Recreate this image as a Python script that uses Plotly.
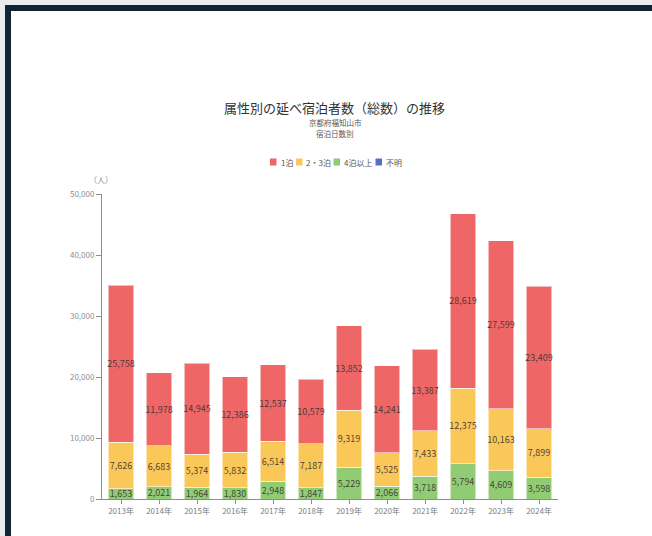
import plotly.graph_objects as go

# ---- data ----
years = ["2013年", "2014年", "2015年", "2016年", "2017年", "2018年",
         "2019年", "2020年", "2021年", "2022年", "2023年", "2024年"]
stay_4plus = [1653, 2021, 1964, 1830, 2948, 1847, 5229, 2066, 3718, 5794, 4609, 3598]
stay_2_3 = [7626, 6683, 5374, 5832, 6514, 7187, 9319, 5525, 7433, 12375, 10163, 7899]
stay_1 = [25758, 11978, 14945, 12386, 12537, 10579, 13852, 14241, 13387, 28619, 27599, 23409]
stay_unknown = [0] * 12
series_names = ["1泊", "2・3泊", "4泊以上", "不明"]
y_ticks = [0, 10000, 20000, 30000, 40000, 50000]

title_text = "属性別の延べ宿泊者数（総数）の推移"
subtitle_lines = ["京都府福知山市", "宿泊日数別"]
unit_text = "（人）"

# ---- styling ----
W, H = 652, 536
ML, MR, MT, MB = 102, 94, 194, 37
PW, PH = W - ML - MR, H - MT - MB
FONT = "Noto Sans CJK JP"
COLORS = {"1泊": "#ee6666", "2・3泊": "#fac858", "4泊以上": "#91cc75", "不明": "#5470c6"}


def px(x):
    return (x - ML) / PW


def py(y):
    return (H - MB - y) / PH


fig = go.Figure()
series_values = {"4泊以上": stay_4plus, "2・3泊": stay_2_3, "1泊": stay_1, "不明": stay_unknown}
for name in ["4泊以上", "2・3泊", "1泊", "不明"]:
    vals = series_values[name]
    is_empty = all(v == 0 for v in vals)
    fig.add_trace(go.Bar(
        x=years, y=vals, name=name,
        marker=dict(color=COLORS[name],
                    line=dict(color="rgba(255,255,255,0.55)", width=0 if is_empty else 1)),
        texttemplate="" if is_empty else "%{y:,}",
        textposition="inside", insidetextanchor="middle", textangle=0,
        constraintext="none",
        textfont=dict(family=FONT, size=9, color="rgba(60,50,50,0.9)"),
        hoverinfo="x+y+name",
    ))

fig.update_layout(
    width=W, height=H,
    margin=dict(l=ML, r=MR, t=MT, b=MB, autoexpand=False),
    barmode="stack", bargap=0.32,
    paper_bgcolor="white", plot_bgcolor="white",
    showlegend=False,
    font=dict(family=FONT, size=8, color="#6e7079"),
    xaxis=dict(type="category", showline=True, linecolor="#8a8d95", linewidth=1,
               ticks="outside", ticklen=4, tickcolor="#8a8d95",
               tickfont=dict(family=FONT, size=8, color="#7a7d85"),
               showgrid=False, zeroline=False, fixedrange=True),
    yaxis=dict(range=[0, 50000], tickvals=y_ticks, tickformat=",",
               showline=True, linecolor="#8a8d95", linewidth=1,
               ticks="outside", ticklen=5, tickcolor="#8a8d95",
               tickfont=dict(family=FONT, size=8, color="#8a8d95"),
               showgrid=False, zeroline=False, fixedrange=True),
)

annotations = [
    dict(text=title_text, x=px(334.5), y=py(108), xref="paper", yref="paper",
         showarrow=False, xanchor="center", yanchor="middle",
         font=dict(family=FONT, size=13, color="#333333")),
    dict(text=subtitle_lines[0], x=px(335), y=py(122), xref="paper", yref="paper",
         showarrow=False, xanchor="center", yanchor="middle",
         font=dict(family=FONT, size=7.5, color="#555555")),
    dict(text=subtitle_lines[1], x=px(335), y=py(133), xref="paper", yref="paper",
         showarrow=False, xanchor="center", yanchor="middle",
         font=dict(family=FONT, size=7.5, color="#555555")),
    dict(text=unit_text, x=px(101), y=py(180), xref="paper", yref="paper",
         showarrow=False, xanchor="center", yanchor="middle",
         font=dict(family=FONT, size=8, color="#8a8d95")),
]

shapes = []
# custom legend
legend_swatch_x = [270, 296, 333.5, 375.5]
legend_text_x = [278.5, 303.5, 341.5, 383.5]
legend_y = 162
for name, sx, tx in zip(series_names, legend_swatch_x, legend_text_x):
    shapes.append(dict(type="rect", xref="paper", yref="paper",
                       x0=px(sx), x1=px(sx + 6.5), y0=py(legend_y + 3.5), y1=py(legend_y - 3.5),
                       fillcolor=COLORS[name], line=dict(width=0)))
    annotations.append(dict(text=name, x=px(tx), y=py(legend_y), xref="paper", yref="paper",
                            showarrow=False, xanchor="left", yanchor="middle",
                            font=dict(family=FONT, size=8, color="#555555")))

# frame around page
FRAME = "#0e2533"
LIGHT = "#e9ecee"
for (x0, y0, x1, y1, c) in [(0, 0, W, 5, LIGHT), (0, 0, 5, H, LIGHT),
                            (5, 5, W, 11, FRAME), (5, 5, 11, H, FRAME)]:
    shapes.append(dict(type="rect", xref="paper", yref="paper",
                       x0=px(x0), x1=px(x1), y0=py(y1), y1=py(y0),
                       fillcolor=c, line=dict(width=0), layer="above"))

fig.update_layout(annotations=annotations, shapes=shapes)
fig.write_html(
    "out.html",
    config={"displayModeBar": False},
    post_script="document.body.style.margin='0';document.body.style.overflow='hidden';",
)
